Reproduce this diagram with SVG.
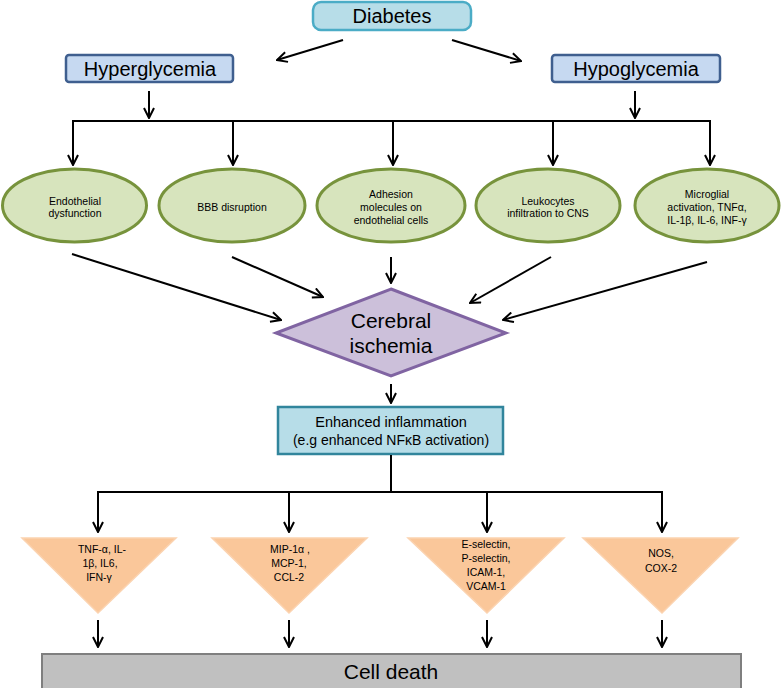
<svg xmlns="http://www.w3.org/2000/svg" width="781" height="688" viewBox="0 0 781 688">
<style>
text{font-family:"Liberation Sans",Arial,sans-serif;fill:#000;text-anchor:middle}
.big{font-size:20px}
.sm{font-size:10.5px}
.md{font-size:14.5px}
.conn line,.conn polyline{stroke:#000;stroke-width:2;fill:none}
.ell{fill:#d7e4bd;stroke:#77933c;stroke-width:3}
.tri{fill:#fac79a;stroke:#fbd3b0;stroke-width:1.5}
</style>
<defs>
<marker id="ah" viewBox="0 0 12 12" refX="11" refY="6" markerWidth="12" markerHeight="12" markerUnits="userSpaceOnUse" orient="auto">
<path d="M1,1 L11,6 L1,11" fill="none" stroke="#000" stroke-width="2"/>
</marker>
</defs>
<rect width="781" height="688" fill="#fff"/>
<g id="diabetes">
<rect x="313" y="2" width="158" height="28" rx="8" fill="#b7dde8" stroke="#4bacc6" stroke-width="2.5"/>
<text class="big" x="392" y="23">Diabetes</text>
</g>
<g id="hyperglycemia">
<rect x="66" y="55" width="167" height="27" rx="3" fill="#c6d9f1" stroke="#3f5f8f" stroke-width="2.5"/>
<text class="big" x="150" y="76">Hyperglycemia</text>
</g>
<g id="hypoglycemia">
<rect x="552" y="55" width="168" height="27" rx="3" fill="#c6d9f1" stroke="#3f5f8f" stroke-width="2.5"/>
<text class="big" x="636" y="76">Hypoglycemia</text>
</g>
<g id="e1">
<ellipse class="ell" cx="74.5" cy="205.5" rx="72" ry="36.5"/>
<text class="sm" x="75" y="205">Endothelial</text>
<text class="sm" x="75" y="217">dysfunction</text>
</g>
<g id="e2">
<ellipse class="ell" cx="232" cy="205.5" rx="73" ry="36.5"/>
<text class="sm" x="232" y="211">BBB disruption</text>
</g>
<g id="e3">
<ellipse class="ell" cx="391" cy="205.5" rx="74" ry="36.5"/>
<text class="sm" x="391" y="198">Adhesion</text>
<text class="sm" x="391" y="211">molecules on</text>
<text class="sm" x="391" y="224">endothelial cells</text>
</g>
<g id="e4">
<ellipse class="ell" cx="548" cy="205.5" rx="72" ry="36.5"/>
<text class="sm" x="548" y="205">Leukocytes</text>
<text class="sm" x="548" y="217">infiltration to CNS</text>
</g>
<g id="e5">
<ellipse class="ell" cx="707" cy="205.5" rx="72" ry="36.5"/>
<text class="sm" x="707" y="198">Microglial</text>
<text class="sm" x="707" y="211">activation, TNFα,</text>
<text class="sm" x="707" y="224">IL-1β, IL-6, INF-γ</text>
</g>
<g id="ischemia">
<polygon points="391,289 506,333 391,376 276,333" fill="#ccc0da" stroke="#8064a2" stroke-width="3"/>
<text class="big" style="font-size:21px" x="391" y="328">Cerebral</text>
<text class="big" style="font-size:21px" x="391" y="353">ischemia</text>
</g>
<g id="inflammation">
<rect x="278" y="407" width="225" height="47" fill="#b7dde8" stroke="#31859c" stroke-width="2.5"/>
<text class="md" x="391" y="427">Enhanced inflammation</text>
<text class="md" style="font-size:14px" x="391" y="445">(e.g enhanced NFκB activation)</text>
</g>
<g id="t1">
<polygon class="tri" points="22,538 176,538 98,613"/>
<text class="sm" x="102" y="553">TNF-α, IL-</text>
<text class="sm" x="100" y="567">1β, IL6,</text>
<text class="sm" x="99" y="581">IFN-γ</text>
</g>
<g id="t2">
<polygon class="tri" points="212,538 367,538 289,613"/>
<text class="sm" x="290" y="553">MIP-1α ,</text>
<text class="sm" x="289" y="567">MCP-1,</text>
<text class="sm" x="289" y="581">CCL-2</text>
</g>
<g id="t3">
<polygon class="tri" points="408,538 564,538 487,613"/>
<text class="sm" x="486" y="548">E-selectin,</text>
<text class="sm" x="486" y="562">P-selectin,</text>
<text class="sm" x="486" y="576">ICAM-1,</text>
<text class="sm" x="486" y="590">VCAM-1</text>
</g>
<g id="t4">
<polygon class="tri" points="583,538 738,538 662,613"/>
<text class="sm" x="661" y="557">NOS,</text>
<text class="sm" x="661" y="572">COX-2</text>
</g>
<g id="celldeath">
<rect x="42" y="654" width="699" height="36" fill="#c0c0c0" stroke="#7f7f7f" stroke-width="2"/>
<text class="big" style="font-size:21px" x="391" y="679">Cell death</text>
</g>
<g class="conn" id="connectors">
<line x1="343" y1="40" x2="277" y2="60" marker-end="url(#ah)"/>
<line x1="452" y1="40" x2="521" y2="61" marker-end="url(#ah)"/>
<line x1="149" y1="91" x2="149" y2="118" marker-end="url(#ah)"/>
<line x1="635" y1="91" x2="635" y2="118" marker-end="url(#ah)"/>
<polyline points="73,165 73,121 710,121 710,165" marker-end="url(#ah)"/>
<line x1="73" y1="121" x2="73" y2="165" marker-end="url(#ah)"/>
<line x1="233" y1="121" x2="233" y2="165" marker-end="url(#ah)"/>
<line x1="393" y1="121" x2="393" y2="165" marker-end="url(#ah)"/>
<line x1="553" y1="121" x2="553" y2="165" marker-end="url(#ah)"/>
<line x1="72" y1="254" x2="281" y2="320" marker-end="url(#ah)"/>
<line x1="232" y1="257" x2="323" y2="297" marker-end="url(#ah)"/>
<line x1="391" y1="257" x2="391" y2="283" marker-end="url(#ah)"/>
<line x1="551" y1="257" x2="470" y2="303" marker-end="url(#ah)"/>
<line x1="707" y1="262" x2="503" y2="320" marker-end="url(#ah)"/>
<line x1="391" y1="384" x2="391" y2="403" marker-end="url(#ah)"/>
<line x1="391" y1="455" x2="391" y2="492"/>
<polyline points="98,532 98,492 662,492 662,532" marker-end="url(#ah)"/>
<line x1="98" y1="492" x2="98" y2="532" marker-end="url(#ah)"/>
<line x1="289" y1="492" x2="289" y2="532" marker-end="url(#ah)"/>
<line x1="487" y1="492" x2="487" y2="532" marker-end="url(#ah)"/>
<line x1="98" y1="620" x2="98" y2="647" marker-end="url(#ah)"/>
<line x1="289" y1="620" x2="289" y2="647" marker-end="url(#ah)"/>
<line x1="487" y1="620" x2="487" y2="647" marker-end="url(#ah)"/>
<line x1="662" y1="620" x2="662" y2="647" marker-end="url(#ah)"/>
</g>
</svg>
